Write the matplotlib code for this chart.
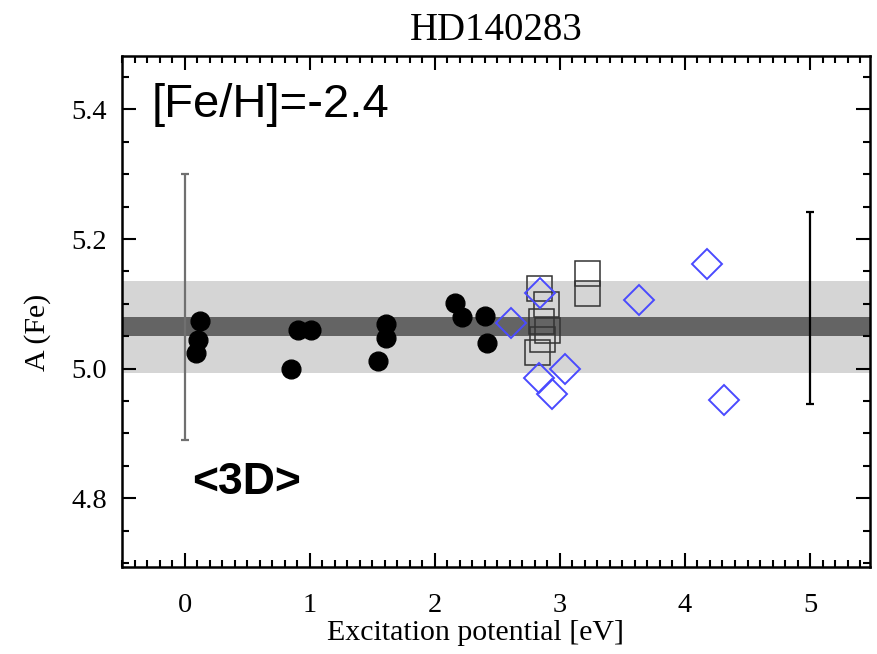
import numpy as np
import matplotlib
matplotlib.use("Agg")
import matplotlib.pyplot as plt
from matplotlib.ticker import MultipleLocator

# Fe I lines (filled circles), Fe II lines (squares), diamonds
dots_x = [0.12, 0.11, 0.09, 0.85, 0.91, 1.01, 1.61, 1.61, 1.55, 2.16, 2.22, 2.40, 2.42]
dots_y = [5.073, 5.045, 5.024, 5.000, 5.060, 5.060, 5.069, 5.048, 5.012, 5.102, 5.079, 5.082, 5.039]

squares_x = [2.83, 2.89, 2.85, 2.90, 2.86, 2.82, 3.22, 3.22]
squares_y = [5.125, 5.100, 5.074, 5.060, 5.046, 5.025, 5.147, 5.117]

diamonds_x = [2.61, 2.84, 2.83, 3.04, 2.94, 3.63, 4.18, 4.31]
diamonds_y = [5.071, 5.117, 4.986, 5.000, 4.961, 5.106, 5.162, 4.952]

# mean abundance and bands
mean_fe = 5.065
inner_hw = 0.014
outer_hw = 0.071

# error bars drawn at the edges
err_x = [0, 5]
err_lo = [4.89, 4.945]
err_hi = [5.30, 5.241]
err_col = ['#707070', 'black']

plt.rcParams['font.family'] = 'Liberation Serif'

fig = plt.figure(figsize=(8.78, 6.54), dpi=100)
ax = fig.add_axes([0.139, 0.133, 0.852, 0.781])

ax.axhspan(mean_fe - outer_hw, mean_fe + outer_hw, color='#d5d5d5', lw=0, zorder=0)
ax.axhspan(mean_fe - inner_hw, mean_fe + inner_hw, color='#646464', lw=0, zorder=0.5)

for x, lo, hi, c in zip(err_x, err_lo, err_hi, err_col):
    ax.errorbar([x], [(lo + hi) / 2], yerr=[[(hi - lo) / 2], [(hi - lo) / 2]],
                fmt='none', ecolor=c, elinewidth=1.6, capsize=3, capthick=1.6, zorder=1)

ax.plot(dots_x, dots_y, 'o', color='black', ms=13.5, zorder=3)
ax.plot(squares_x, squares_y, 's', mfc='none', mec='#333333', mew=1.1, ms=18, zorder=4)
ax.plot(diamonds_x, diamonds_y, 'D', mfc='none', mec='#4a4aff', mew=1.4, ms=15, zorder=5)

ax.set_xlim(-0.5, 5.48)
ax.set_ylim(4.694, 5.482)
ax.xaxis.set_major_locator(MultipleLocator(1))
ax.xaxis.set_minor_locator(MultipleLocator(0.1))
ax.yaxis.set_major_locator(MultipleLocator(0.2))
ax.yaxis.set_minor_locator(MultipleLocator(0.05))
ax.yaxis.set_major_formatter(matplotlib.ticker.FormatStrFormatter('%.1f'))
ax.tick_params(which='both', direction='in', top=True, right=True, labelsize=20.5, width=1.5)
ax.tick_params(which='major', length=10)
ax.tick_params(which='minor', length=5)
ax.tick_params(axis='x', which='major', pad=19)
ax.tick_params(axis='y', which='major', pad=11)
for s in ax.spines.values():
    s.set_linewidth(1.8)

ax.set_title('HD140283', fontsize=28, pad=12)
ax.set_xlabel('Excitation potential [eV]', fontsize=21.5)
ax.xaxis.set_label_coords(0.473, -0.103)
ax.set_ylabel('A (Fe)', fontsize=21.5)
ax.yaxis.set_label_coords(-0.095, 0.46)

ax.text(0.04, 0.905, '[Fe/H]=-2.4', transform=ax.transAxes, fontsize=34,
        family='Liberation Sans', va='center', ha='left')
ax.text(0.094, 0.166, '<3D>', transform=ax.transAxes, fontsize=32,
        family='Liberation Sans', fontweight='bold', va='center', ha='left')

fig.savefig('out.png', dpi=100)
